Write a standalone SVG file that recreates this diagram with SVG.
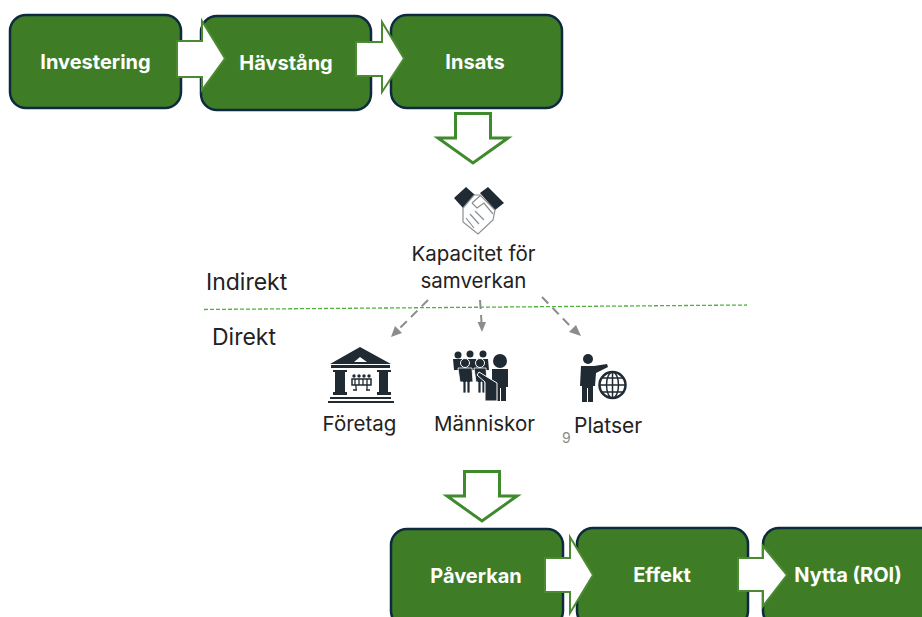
<svg xmlns="http://www.w3.org/2000/svg" width="922" height="617" viewBox="0 0 922 617">
<style>
.box{fill:#3e7d26;stroke:#0e2a3f;stroke-width:2.5}
.arr{fill:#fff;stroke:#4a8a30;stroke-width:2}
.down{fill:#fff;stroke:#3f8a2c;stroke-width:3}
.bl{font:650 20px Inter,"Liberation Sans",sans-serif;fill:#fff;text-anchor:middle}
.t{font:400 20.500px Inter,"Liberation Sans",sans-serif;fill:#222}
.ink{fill:#1f2a33}
.dash{stroke:#8c8c8c;stroke-width:2;stroke-dasharray:9 6;fill:none}
.hd{fill:#8c8c8c}
</style>
<rect width="922" height="617" fill="#fff"/>
<g id="investering"><rect class="box" x="10" y="15" width="171" height="93" rx="16"/><text class="bl" x="95.500" y="69">Investering</text></g>
<g id="havstang"><rect class="box" x="201" y="16" width="170" height="94" rx="16"/><text class="bl" x="286" y="70">Hävstång</text></g>
<g id="insats"><rect class="box" x="391" y="15" width="171" height="93" rx="16"/><text class="bl" x="475" y="69">Insats</text></g>
<g id="paverkan"><rect class="box" x="391" y="529" width="172" height="98" rx="16"/><text class="bl" x="476" y="583">Påverkan</text></g>
<g id="effekt"><rect class="box" x="577" y="528" width="171" height="99" rx="16"/><text class="bl" x="662" y="582">Effekt</text></g>
<g id="nytta"><rect class="box" x="763" y="528" width="175" height="99" rx="16"/><text class="bl" x="848" y="582">Nytta (ROI)</text></g>
<g id="connectors">
<path class="arr" d="M177 41H202V21L225 58.500 202 90V77H177Z"/>
<path class="arr" d="M356 42H382V22L404 58.500 382 92V76H356Z"/>
<path class="arr" d="M545 558H570V537L593 575 570 613V592H545Z"/>
<path class="arr" d="M738 558H763V546L787 575 763 606V591H738Z"/>
<path class="down" d="M455.500 113.500H490.500V138H508L473 163 438 138H455.500Z"/>
<path class="down" d="M464.500 471.500H499.500V496H517L482 521 447 496H464.500Z"/>
<path d="M204 309.500L747 305" fill="none" stroke="#4fb33a" stroke-width="1.300" stroke-dasharray="4 2"/>
<path class="dash" d="M428 300L398 330"/><path class="hd" d="M391 337L395 326 402 333Z"/>
<path class="dash" d="M480 300L481.500 322"/><path class="hd" d="M482 332L477.500 322H486Z"/>
<path class="dash" d="M542 297L573 329"/><path class="hd" d="M581 336L569 332 576 325Z"/>
</g>
<g id="kapacitet">
<path class="ink" d="M454 198L466 187 475 195 463 208ZM480 193L488 187 504 203 495 210Z"/>
<path d="M463 208V222L478 234 493 220 495 210 480 195H474L463 208Z" fill="#fff" stroke="#8a8f94" stroke-width="1.200"/>
<path d="M472 203L481 195M472 203L477 208 484 203 493 214M466 218L474 228M470 214L479 224M475 211L484 220" fill="none" stroke="#8a8f94" stroke-width="1.200"/>
<text class="t" x="473.500" y="261" text-anchor="middle">Kapacitet för</text>
<text class="t" x="473.500" y="288" text-anchor="middle">samverkan</text>
</g>
<g id="indirekt"><text class="t" x="206" y="290" style="font-size:23px">Indirekt</text></g>
<g id="direkt"><text class="t" x="212" y="345" style="font-size:23px">Direkt</text></g>
<g id="foretag">
<path class="ink" d="M330 364L360 347 391 364ZM354 362H367L360 357Z" fill-rule="evenodd"/>
<rect class="ink" x="331" y="365" width="59" height="3"/>
<path class="ink" d="M333 370H347V372H345V392H347V395H333V392H335V372H333ZM377 370H391V372H388V392H391V395H377V392H379V372H377Z"/>
<rect class="ink" x="330" y="397" width="61" height="2"/><rect class="ink" x="328" y="401" width="66" height="2"/>
<path d="M352 379h19v6h-19Z" fill="#fff" stroke="#1f2a33" stroke-width="1.500"/>
<path d="M356 385v5M367 385v5M353 390h4M366 390h4M355 379v6M359 379v6M363 379v6M367 379v6" stroke="#1f2a33" stroke-width="1.300" fill="none"/>
<circle class="ink" cx="354" cy="376" r="1.700"/><circle class="ink" cx="359" cy="376" r="1.700"/><circle class="ink" cx="364" cy="376" r="1.700"/><circle class="ink" cx="369" cy="376" r="1.700"/>
<text class="t" x="359.500" y="431" text-anchor="middle">Företag</text>
</g>
<g id="manniskor">
<g class="ink">
<circle cx="458" cy="355" r="3.500"/><circle cx="470" cy="354" r="3.500"/><circle cx="483" cy="354" r="3.500"/>
<path d="M453 359h11l2 11h-12ZM465 359h11l1 11h-11ZM477 359h11l1 11h-12Z"/>
<circle cx="465" cy="363" r="4.500" stroke="#fff"/><circle cx="480" cy="363" r="4.500" stroke="#fff"/>
<path d="M458 368h14l1 14h-3v11h-3v-11h-1v11h-3v-11h-3ZM474 368h12l1 14h-2v11h-3v-11h-1v11h-3v-11h-2Z" stroke="#fff" stroke-width=".8"/>
<circle cx="500" cy="361" r="7"/>
<path d="M492 369h16v18h-2v14h-5v-13h-1v13h-5v-14h-3Z"/>
<path d="M479 372l18 11v18h-12v-19l-8-7Z" stroke="#fff" stroke-width="1"/>
</g>
<text class="t" x="484.500" y="431" text-anchor="middle">Människor</text>
</g>
<g id="platser">
<g class="ink">
<circle cx="588" cy="359" r="5"/>
<path d="M581 366h13l13-2 1 3-12 6-1 13h-2v16h-5v-14h-1v14h-5v-16h-2Z"/>
</g>
<g fill="none" stroke="#1f2a33" stroke-width="1.500">
<circle cx="612.500" cy="385" r="13" fill="#fff" stroke-width="2.500"/><ellipse cx="612.500" cy="385" rx="6" ry="13"/>
<path d="M600 385H625M612.500 372V398M602 378H623M602 392H623"/>
</g>
<text class="t" x="574" y="433" style="font-size:21px">Platser</text>
<text x="562" y="443" style="font:400 14px Inter,'Liberation Sans',sans-serif;fill:#8a8a8a">9</text>
</g>
</svg>
